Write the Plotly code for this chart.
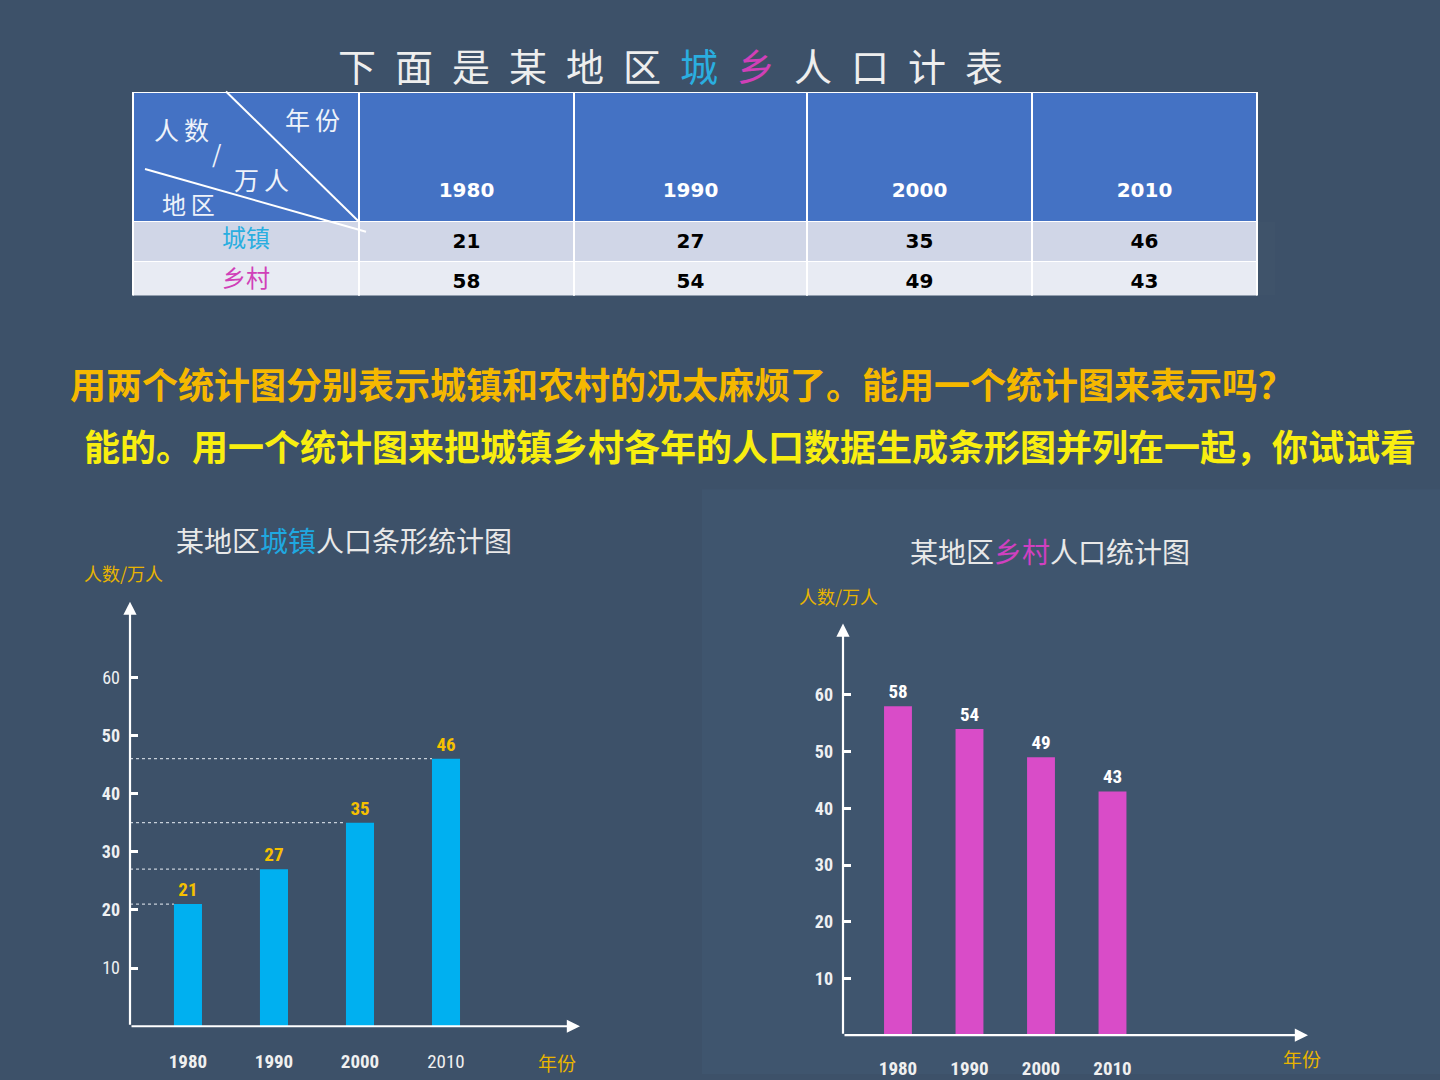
import plotly.graph_objects as go

# ---------------- data ----------------
years = ["1980", "1990", "2000", "2010"]
urban = [21, 27, 35, 46]
rural = [58, 54, 49, 43]
row_labels = ["城镇", "乡村"]
y_ticks = [10, 20, 30, 40, 50, 60]

W, H = 1440, 1080
BG = "#3d5169"
CYAN = "#00b0f0"
MAGENTA = "#d94cc8"
GOLD = "#f5c000"
NARROW = "Liberation Sans Narrow, Roboto Condensed, Arial Narrow, sans-serif"
CJK = "Noto Sans CJK SC"


def px(x):
    return x / W


def py(y):
    return 1 - y / H


fig = go.Figure()

# ---------------- table ----------------
nb = "\u00a0<br>"
header_vals = [""] + [nb * 3 + "<b>%s</b>" % y for y in years]
cell_vals = [row_labels] + [[u, r] for u, r in zip(urban, rural)]
cell_vals = [[c if isinstance(c, str) else "<b>%d</b>" % c for c in col] for col in cell_vals]
fill_rows = ["#d0d6e7", "#e8ebf3"]
fig.add_trace(go.Table(
    domain=dict(x=[px(133), px(1257)], y=[py(298), py(93)]),
    columnwidth=[226, 215, 233, 225, 225],
    header=dict(values=header_vals, fill_color="#4472c4", line=dict(color="white", width=1.5),
                align="center", height=129,
                font=dict(color="white", size=20, family="DejaVu Sans")),
    cells=dict(values=cell_vals, fill_color=[fill_rows] * 5,
               line=dict(color="white", width=1.5), align="center", height=38,
               font=dict(color=[["#2aaee0", "#d040b8"]] + [["black", "black"]] * 4,
                         size=[24, 20, 20, 20, 20],
                         family=[CJK, "DejaVu Sans", "DejaVu Sans", "DejaVu Sans", "DejaVu Sans"])),
))

# ---------------- left chart (urban) ----------------
xs = list(range(len(years)))
lw = 0.326
lx_range = [-0.674, 4.558]
ly_range = [0, 73]
fig.add_trace(go.Bar(x=xs, y=urban, width=lw, marker=dict(color=CYAN, line=dict(width=0)),
                     texttemplate="<b>%{y}</b>", textposition="outside",
                     textfont=dict(color=GOLD, size=19, family=NARROW),
                     cliponaxis=False, xaxis="x", yaxis="y", showlegend=False))
for i, v in zip(xs, urban):
    fig.add_trace(go.Scatter(x=[lx_range[0], i - lw / 2], y=[v, v], mode="lines",
                             line=dict(color="#c8d0da", width=1.3, dash="dot"),
                             xaxis="x", yaxis="y", showlegend=False, hoverinfo="skip"))

# ---------------- right chart (rural) ----------------
rw = 0.39
rx_range = [-0.769, 5.734]
ry_range = [0, 72.6]
fig.add_trace(go.Bar(x=xs, y=rural, width=rw, marker=dict(color=MAGENTA, line=dict(width=0)),
                     texttemplate="<b>%{y}</b>", textposition="outside",
                     textfont=dict(color="white", size=19, family=NARROW),
                     cliponaxis=False, xaxis="x2", yaxis="y2", showlegend=False))

left_xt = ["<b>1980</b>", "<b>1990</b>", "<b>2000</b>", "2010"]
left_yt = ["10", "<b>20</b>", "<b>30</b>", "<b>40</b>", "<b>50</b>", "60"]
axis_common = dict(showgrid=False, zeroline=False, showline=False, fixedrange=True)

fig.update_layout(
    width=W, height=H, margin=dict(l=0, r=0, t=0, b=0),
    paper_bgcolor=BG, plot_bgcolor="rgba(0,0,0,0)",
    xaxis=dict(domain=[px(130), px(580)], range=lx_range, tickvals=xs, ticktext=left_xt,
               ticks="", ticklabelstandoff=22,
               tickfont=dict(color="#f0f0f0", size=19, family=NARROW), anchor="y", **axis_common),
    yaxis=dict(domain=[py(1032), py(605)], range=ly_range, tickvals=y_ticks, ticktext=left_yt,
               ticks="inside", ticklen=8, tickwidth=3, tickcolor="white", ticklabelstandoff=9,
               tickfont=dict(color="#eef0f2", size=18, family=NARROW), anchor="x", **axis_common),
    xaxis2=dict(domain=[px(843), px(1308)], range=rx_range, tickvals=xs,
                ticktext=["<b>%s</b>" % y for y in years], ticks="", ticklabelstandoff=20,
                tickfont=dict(color="#f0f0f0", size=19, family=NARROW), anchor="y2", **axis_common),
    yaxis2=dict(domain=[py(1041), py(627)], range=ry_range, tickvals=y_ticks,
                ticktext=["<b>%d</b>" % t for t in y_ticks],
                ticks="inside", ticklen=8, tickwidth=3, tickcolor="white", ticklabelstandoff=9,
                tickfont=dict(color="#eef0f2", size=18, family=NARROW), anchor="x2", **axis_common),
)

# right panel backdrop
fig.add_shape(type="rect", xref="paper", yref="paper", x0=px(702), x1=1, y0=0, y1=py(492),
              fillcolor="#3f556e", line=dict(width=0), layer="below")

# diagonal header lines
fig.add_shape(type="line", xref="paper", yref="paper", x0=px(226), y0=py(92), x1=px(358), y1=py(222),
              line=dict(color="white", width=2))
fig.add_shape(type="line", xref="paper", yref="paper", x0=px(145), y0=py(170), x1=px(366), y1=py(233),
              line=dict(color="white", width=2))

ann = []


def txt(x, y, s, size, color="white", xanchor="center", family=CJK):
    ann.append(dict(x=x, y=y, xref="paper", yref="paper", text=s, showarrow=False,
                    xanchor=xanchor, yanchor="middle", font=dict(size=size, color=color, family=family)))


# header corner labels
th = "\u2009"
txt(px(312), py(120), "年" + th + "份", 25, "#eef2fa")
txt(px(181), py(130), "人" + th + "数", 25, "#eef2fa")
txt(px(217), py(153), "/", 24, "#eef2fa")
txt(px(261), py(180), "万" + th + "人", 25, "#eef2fa")
txt(px(188), py(205), "地" + th + "区", 24, "#eef2fa")

# table title
sp = "\u2002"
title_chars = ["下", "面", "是", "某", "地", "区",
               "<span style='color:#2aaee0'>城</span>", "<span style='color:#d040b8'>乡</span>",
               "人", "口", "计", "表"]
txt(px(670), py(65), sp.join(title_chars), 38, "#eeeeee")

# question lines
txt(px(68), py(385), "<b>用两个统计图分别表示城镇和农村的况太麻烦了。能用一个统计图来表示吗？</b>", 36,
    "#f5b800", xanchor="left")
txt(px(82), py(447), "<b>能的。用一个统计图来把城镇乡村各年的人口数据生成条形图并列在一起，你试试看</b>", 36,
    "#f8ee10", xanchor="left")

# chart titles
txt(px(344), py(543), "某地区<span style='color:#1fa8e0'>城镇</span>人口条形统计图", 28, "#e8e8e8")
txt(px(1050), py(554), "某地区<span style='color:#d040c0'>乡村</span>人口统计图", 28, "#e8e8e8")

# axis units
txt(px(123), py(576), "人数/万人", 18, "#e8b400")
txt(px(838), py(599), "人数/万人", 18, "#e8b400")
txt(px(557), py(1068), "年份", 19, "#e8b400")
txt(px(1302), py(1064), "年份", 19, "#e8b400")

# axis arrows
for xr, yr, xrng, yrng in [("x", "y", lx_range, ly_range), ("x2", "y2", rx_range, ry_range)]:
    ann.append(dict(x=xrng[1], y=yrng[0], ax=xrng[0], ay=yrng[0], xref=xr, yref=yr, axref=xr, ayref=yr,
                    showarrow=True, arrowhead=2, arrowsize=1.2, arrowwidth=2.2, arrowcolor="white", text=""))
    ann.append(dict(x=xrng[0], y=yrng[1], ax=xrng[0], ay=yrng[0], xref=xr, yref=yr, axref=xr, ayref=yr,
                    showarrow=True, arrowhead=2, arrowsize=1.2, arrowwidth=2.2, arrowcolor="white", text=""))

fig.update_layout(annotations=ann)
fig.write_html("out.html")
